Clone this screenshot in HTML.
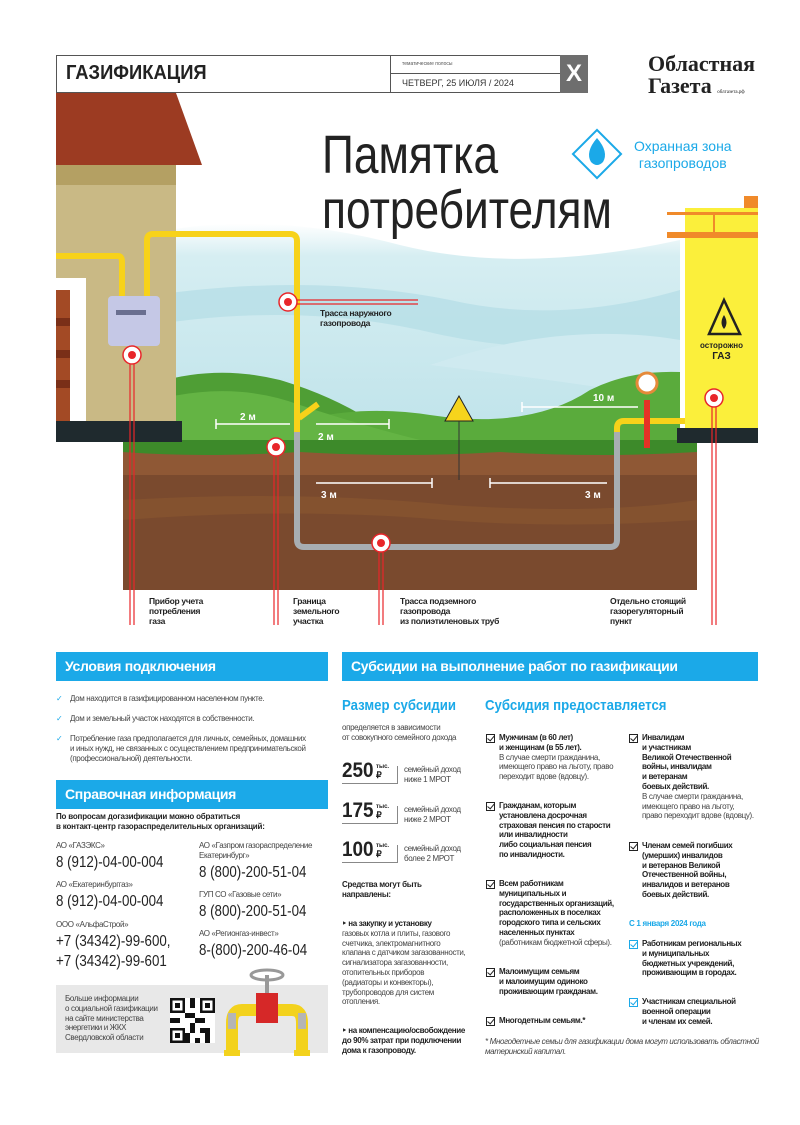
<!DOCTYPE html>
<html><head><meta charset="utf-8">
<style>
*{margin:0;padding:0;box-sizing:border-box}
body{width:800px;height:1125px;background:#fff;position:relative;overflow:hidden;font-family:"Liberation Sans",sans-serif;color:#222}
.a{position:absolute;white-space:nowrap}
.bar{position:absolute;background:#1ba9e8;color:#fff;font-weight:bold;font-size:14px;padding-left:9px;line-height:29px;height:29px;letter-spacing:-0.3px}
.s{font-size:8px;line-height:9.8px;color:#444;letter-spacing:-0.35px}
.b{font-weight:bold;color:#222}
.ph{font-size:15.5px;color:#222;transform:scaleX(.86);transform-origin:left top}
.lbl{font-size:8.5px;font-weight:bold;line-height:10px;color:#222;letter-spacing:-0.3px}
.cb{position:absolute;width:9px;height:9px;border:1.2px solid #222}
.cb:after{content:"";position:absolute;left:2px;top:-1px;width:3px;height:6px;border-right:1.5px solid #222;border-bottom:1.5px solid #222;transform:rotate(40deg)}
.cb.bl{border-color:#1ba9e8}.cb.bl:after{border-color:#1ba9e8}
.h2{font-size:15px;font-weight:bold;color:#1ba9e8;transform:scaleX(.88);transform-origin:left top}
</style></head><body>

<svg class="a" style="left:0;top:0" width="800" height="640" viewBox="0 0 800 640">
<defs>
<linearGradient id="sky" x1="0" y1="0" x2="0" y2="1"><stop offset="0" stop-color="#fff"/><stop offset="0.15" stop-color="#d6eef2"/><stop offset="1" stop-color="#bfe3ea"/></linearGradient>
</defs>
<path d="M123 240 Q250 205 400 245 Q520 275 680 240 L680 440 L123 440Z" fill="url(#sky)"/>
<path d="M123 300 Q300 270 450 300 Q560 325 680 290 L680 340 Q540 360 420 330 Q280 300 123 330Z" fill="#b3dde5" opacity=".7"/>
<path d="M430 365 Q560 320 680 340 L680 400 Q560 380 430 365Z" fill="#cfeaf0"/>
<path d="M123 420 L123 395 Q200 360 280 380 Q330 395 370 420Z" fill="#4f9e35"/>
<path d="M250 440 Q330 400 430 415 Q530 430 590 390 Q630 370 680 372 L680 440Z" fill="#5aab3c"/>
<path d="M123 440 L123 410 Q220 375 300 405 Q360 425 420 440Z" fill="#64b444"/>
<rect x="123" y="445" width="574" height="145" fill="#7a4a2e"/>
<rect x="123" y="445" width="574" height="30" fill="#8f5835"/>
<path d="M123 500 Q300 490 450 505 Q600 515 697 500 L697 520 Q550 530 420 518 Q280 508 123 520Z" fill="#84522f"/>
<path d="M123 452 L123 440 L697 440 L697 452 Q600 458 500 452 Q400 458 300 452 Q200 458 123 452Z" fill="#3d8a2a"/>
<polygon points="56,93 176,93 202,165 56,165" fill="#9c3b22"/>
<rect x="56" y="165" width="120" height="20" fill="#b4a063"/>
<rect x="56" y="185" width="120" height="236" fill="#c9b985"/>
<rect x="56" y="278" width="30" height="143" fill="#fff"/>
<rect x="56" y="290" width="14" height="131" fill="#a34a25"/>
<rect x="56" y="318" width="14" height="8" fill="#7a2f18"/><rect x="56" y="350" width="14" height="8" fill="#7a2f18"/><rect x="56" y="380" width="14" height="8" fill="#7a2f18"/>
<rect x="56" y="421" width="126" height="21" fill="#1f2a2e"/>
<g fill="none" stroke="#f7d21a" stroke-width="6" stroke-linejoin="round">
<path d="M56 256 L118 256 Q122 256 122 262 L122 296"/>
<path d="M147 296 L147 240 Q147 234 153 234 L290 234 Q297 234 297 241 L297 432"/>
<path d="M617 432 L617 428 Q617 421 624 421 L685 421"/>
<path d="M299 418 L318 404"/>
</g>
<rect x="644" y="400" width="6" height="48" fill="#e53226"/>
<circle cx="647" cy="383" r="10" fill="#fff" stroke="#e58a3a" stroke-width="3"/>
<rect x="108" y="296" width="52" height="50" rx="4" fill="#c5c8e6"/>
<rect x="116" y="310" width="30" height="5" fill="#6a6f90"/>
<path d="M297 432 L297 540 Q297 547 304 547 L610 547 Q617 547 617 540 L617 432" fill="none" stroke="#a8aeb2" stroke-width="6"/>
<rect x="685" y="208" width="73" height="222" fill="#fbef3b"/>
<rect x="744" y="196" width="14" height="12" fill="#f08a2a"/>
<rect x="667" y="212" width="91" height="3" fill="#f08a2a"/>
<rect x="667" y="232" width="91" height="6" fill="#f08a2a"/>
<rect x="713" y="215" width="2" height="17" fill="#f08a2a"/>
<rect x="677" y="428" width="81" height="15" fill="#1f2a2e"/>
<polygon points="724,300 709,334 740,334" fill="none" stroke="#222" stroke-width="2.5"/>
<path d="M724 315 q-5 8 0 14 q5 -6 0 -14" fill="#222"/>
<polygon points="459,396 445,421 473,421" fill="#f6d41c" stroke="#222" stroke-width="1"/>
<line x1="459" y1="421" x2="459" y2="480" stroke="#333" stroke-width="1"/>
<g stroke="#fff" stroke-width="1.5" fill="none">
<path d="M216 419 V429 M216 424 H290"/>
<path d="M316 424 H389 M389 419 V429"/>
<path d="M316 483 H432 M432 478 V488"/>
<path d="M490 478 V488 M490 483 H607"/>
<path d="M522 402 V412 M522 407 H638"/>
</g>
<g fill="#fff" font-family="Liberation Sans" font-weight="bold" font-size="10">
<text x="240" y="420">2 м</text>
<text x="318" y="440">2 м</text>
<text x="321" y="498">3 м</text>
<text x="585" y="498">3 м</text>
<text x="593" y="401">10 м</text>
</g>
<g stroke="#e8262a" stroke-width="1.2" fill="none">
<path d="M130 360 V625 M134 360 V625"/>
<path d="M274 452 V625 M278 452 V625"/>
<path d="M379 548 V625 M383 548 V625"/>
<path d="M712 403 V625 M716 403 V625"/>
<path d="M293 300 H418 M293 304 H418"/>
</g>
<g fill="#fff" stroke="#e8262a" stroke-width="1.5">
<circle cx="132" cy="355" r="9"/><circle cx="276" cy="447" r="9"/><circle cx="381" cy="543" r="9"/><circle cx="714" cy="398" r="9"/><circle cx="288" cy="302" r="9"/>
</g>
<g fill="#e8262a"><circle cx="132" cy="355" r="4"/><circle cx="276" cy="447" r="4"/><circle cx="381" cy="543" r="4"/><circle cx="714" cy="398" r="4"/><circle cx="288" cy="302" r="4"/></g>
<rect x="580" y="137" width="34" height="34" fill="#fff" stroke="#1ba9e8" stroke-width="2" transform="rotate(45 597 154)"/>
<path d="M597 138 q-12 14 -6 24 q6 6 12 0 q6 -10 -6 -24z" fill="#1ba9e8"/>
</svg>

<div class="a" style="left:56px;top:55px;width:532px;height:38px;border:1px solid #555"></div>
<div class="a" style="left:66px;top:62px;font-size:20px;font-weight:bold;color:#222;transform:scaleX(.92);transform-origin:left top">ГАЗИФИКАЦИЯ</div>
<div class="a" style="left:390px;top:55px;width:170px;height:38px;border-left:1px solid #555"></div>
<div class="a" style="left:390px;top:73px;width:170px;border-top:1px solid #555"></div>
<div class="a" style="left:402px;top:61px;font-size:5px;color:#555">тематические полосы</div>
<div class="a" style="left:402px;top:78px;font-size:9px;color:#333">ЧЕТВЕРГ, 25 ИЮЛЯ / 2024</div>
<div class="a" style="left:560px;top:55px;width:28px;height:38px;background:#6e6e6e;color:#fff;font-weight:bold;font-size:24px;text-align:center;line-height:38px">X</div>
<div class="a" style="left:648px;top:53px;font-family:'Liberation Serif',serif;font-weight:bold;font-size:22px;line-height:22px;color:#222">Областная<br>Газета <span style="font-size:5px;font-weight:normal">облгазета.рф</span></div>

<div class="a" style="left:322px;top:128px;font-size:54px;line-height:55px;color:#222;transform:scaleX(.82);transform-origin:left top">Памятка<br>потребителям</div>
<div class="a" style="left:634px;top:138px;font-size:14px;line-height:17px;color:#1ba9e8;text-align:center">Охранная зона<br>газопроводов</div>

<div class="a lbl" style="left:320px;top:308px">Трасса наружного<br>газопровода</div>
<div class="a" style="left:700px;top:340px;font-size:8px;font-weight:bold;text-align:center;line-height:11px">осторожно<br><span style="font-size:10px">ГАЗ</span></div>
<div class="a lbl" style="left:149px;top:596px">Прибор учета<br>потребления<br>газа</div>
<div class="a lbl" style="left:293px;top:596px">Граница<br>земельного<br>участка</div>
<div class="a lbl" style="left:400px;top:596px">Трасса подземного<br>газопровода<br>из полиэтиленовых труб</div>
<div class="a lbl" style="left:610px;top:596px">Отдельно стоящий<br>газорегуляторный<br>пункт</div>

<div class="bar" style="left:56px;top:652px;width:272px">Условия подключения</div>
<div class="a s" style="left:56px;top:694px;line-height:10px">
<div style="position:relative;padding-left:14px"><span style="position:absolute;left:0;color:#1ba9e8">✓</span>Дом находится в газифицированном населенном пункте.</div>
<div style="position:relative;padding-left:14px;margin-top:10px"><span style="position:absolute;left:0;color:#1ba9e8">✓</span>Дом и земельный участок находятся в собственности.</div>
<div style="position:relative;padding-left:14px;margin-top:10px"><span style="position:absolute;left:0;color:#1ba9e8">✓</span>Потребление газа предполагается для личных, семейных, домашних<br>и иных нужд, не связанных с осуществлением предпринимательской<br>(профессиональной) деятельности.</div>
</div>
<div class="bar" style="left:56px;top:780px;width:272px">Справочная информация</div>
<div class="a b" style="left:56px;top:812px;font-size:8px;line-height:10px;letter-spacing:-0.2px">По вопросам догазификации можно обратиться<br>в контакт-центр газораспределительных организаций:</div>
<div class="a s" style="left:56px;top:841px">АО «ГАЗЭКС»</div>
<div class="a ph" style="left:56px;top:854px">8 (912)-04-00-004</div>
<div class="a s" style="left:56px;top:880px">АО «Екатеринбурггаз»</div>
<div class="a ph" style="left:56px;top:893px">8 (912)-04-00-004</div>
<div class="a s" style="left:56px;top:920px">ООО «АльфаСтрой»</div>
<div class="a ph" style="left:56px;top:932px;line-height:20px">+7 (34342)-99-600,<br>+7 (34342)-99-601</div>
<div class="a s" style="left:199px;top:841px">АО «Газпром газораспределение<br>Екатеринбург»</div>
<div class="a ph" style="left:199px;top:864px">8 (800)-200-51-04</div>
<div class="a s" style="left:199px;top:890px">ГУП СО «Газовые сети»</div>
<div class="a ph" style="left:199px;top:903px">8 (800)-200-51-04</div>
<div class="a s" style="left:199px;top:929px">АО «Регионгаз-инвест»</div>
<div class="a ph" style="left:199px;top:942px">8-(800)-200-46-04</div>
<div class="a" style="left:56px;top:985px;width:272px;height:68px;background:#e8e8e8"></div>
<div class="a s" style="left:65px;top:994px">Больше информации<br>о социальной газификации<br>на сайте министерства<br>энергетики и ЖКХ<br>Свердловской области</div>
<svg class="a" style="left:170px;top:998px" width="45" height="45" viewBox="0 0 9 9">
<rect width="9" height="9" fill="#fff"/>
<g fill="#111"><path d="M0 0h3v3H0zM6 0h3v3H6zM0 6h3v3H0z"/></g>
<g fill="#fff"><path d="M.5 .5h2v2h-2zM6.5 .5h2v2h-2zM.5 6.5h2v2h-2z"/></g>
<g fill="#111"><path d="M1 1h1v1H1zM7 1h1v1H7zM1 7h1v1H1zM4 0h1v2H4zM3 3h2v1H3zM5 4h2v1H5zM4 5h1v2H4zM6 6h2v1H6zM7 7h1v2H7zM5 8h1v1H5zM0 4h2v1H0zM3 7h1v2H3z"/></g>
</svg>
<svg class="a" style="left:222px;top:965px" width="90" height="95" viewBox="0 0 90 95">
<ellipse cx="45" cy="10" rx="16" ry="5" fill="none" stroke="#999" stroke-width="3"/>
<rect x="43" y="10" width="4" height="18" fill="#999"/>
<rect x="34" y="28" width="22" height="30" fill="#d62828"/>
<path d="M34 45 H20 Q10 45 10 58 V85" fill="none" stroke="#f3d21d" stroke-width="12"/>
<path d="M56 45 H70 Q80 45 80 58 V85" fill="none" stroke="#f3d21d" stroke-width="12"/>
<rect x="6" y="48" width="8" height="16" fill="#b5b5b5"/><rect x="76" y="48" width="8" height="16" fill="#b5b5b5"/>
<rect x="2" y="85" width="16" height="6" fill="#f3d21d"/><rect x="72" y="85" width="16" height="6" fill="#f3d21d"/>
</svg>

<div class="bar" style="left:342px;top:652px;width:416px">Субсидии на выполнение работ по газификации</div>
<div class="a h2" style="left:342px;top:697px">Размер субсидии</div>
<div class="a h2" style="left:485px;top:697px">Субсидия предоставляется</div>
<div class="a s" style="left:342px;top:723px">определяется в зависимости<br>от совокупного семейного дохода</div>

<div class="a" style="left:342px;top:760px;font-size:21px;font-weight:bold;line-height:22px;transform:scaleX(.9);transform-origin:left">250</div>
<div class="a" style="left:376px;top:763px;font-size:6px;font-weight:bold;line-height:8px">тыс.<br><span style="font-size:9px">₽</span></div>
<div class="a" style="left:342px;top:783px;width:56px;border-bottom:1px solid #888"></div>
<div class="a" style="left:397px;top:766px;height:17px;border-left:1px solid #888"></div>
<div class="a s" style="left:404px;top:765px">семейный доход<br>ниже 1 МРОТ</div>

<div class="a" style="left:342px;top:800px;font-size:21px;font-weight:bold;line-height:22px;transform:scaleX(.9);transform-origin:left">175</div>
<div class="a" style="left:376px;top:803px;font-size:6px;font-weight:bold;line-height:8px">тыс.<br><span style="font-size:9px">₽</span></div>
<div class="a" style="left:342px;top:823px;width:56px;border-bottom:1px solid #888"></div>
<div class="a" style="left:397px;top:806px;height:17px;border-left:1px solid #888"></div>
<div class="a s" style="left:404px;top:805px">семейный доход<br>ниже 2 МРОТ</div>

<div class="a" style="left:342px;top:839px;font-size:21px;font-weight:bold;line-height:22px;transform:scaleX(.9);transform-origin:left">100</div>
<div class="a" style="left:376px;top:842px;font-size:6px;font-weight:bold;line-height:8px">тыс.<br><span style="font-size:9px">₽</span></div>
<div class="a" style="left:342px;top:862px;width:56px;border-bottom:1px solid #888"></div>
<div class="a" style="left:397px;top:845px;height:17px;border-left:1px solid #888"></div>
<div class="a s" style="left:404px;top:844px">семейный доход<br>более 2 МРОТ</div>

<div class="a b" style="left:342px;top:880px;font-size:8px;line-height:10px;letter-spacing:-0.3px">Средства могут быть<br>направлены:</div>
<div class="a s" style="left:342px;top:919px"><b style="color:#222">‣ на закупку и установку</b><br>газовых котла и плиты, газового<br>счетчика, электромагнитного<br>клапана с датчиком загазованности,<br>сигнализатора загазованности,<br>отопительных приборов<br>(радиаторы и конвекторы),<br>трубопроводов для систем<br>отопления.</div>
<div class="a b" style="left:342px;top:1026px;font-size:8px;line-height:10px;letter-spacing:-0.35px">‣ на компенсацию/освобождение<br>до 90% затрат при подключении<br>дома к газопроводу.</div>

<div class="cb" style="left:486px;top:734px"></div>
<div class="a s" style="left:499px;top:733px"><b style="color:#222">Мужчинам (в 60 лет)<br>и женщинам (в 55 лет).</b><br>В случае смерти гражданина,<br>имеющего право на льготу, право<br>переходит вдове (вдовцу).</div>
<div class="cb" style="left:486px;top:802px"></div>
<div class="a s b" style="left:499px;top:801px">Гражданам, которым<br>установлена досрочная<br>страховая пенсия по старости<br>или инвалидности<br>либо социальная пенсия<br>по инвалидности.</div>
<div class="cb" style="left:486px;top:880px"></div>
<div class="a s" style="left:499px;top:879px"><b style="color:#222">Всем работникам<br>муниципальных и<br>государственных организаций,<br>расположенных в поселках<br>городского типа и сельских<br>населенных пунктах</b><br>(работникам бюджетной сферы).</div>
<div class="cb" style="left:486px;top:968px"></div>
<div class="a s b" style="left:499px;top:967px">Малоимущим семьям<br>и малоимущим одиноко<br>проживающим гражданам.</div>
<div class="cb" style="left:486px;top:1017px"></div>
<div class="a s b" style="left:499px;top:1016px">Многодетным семьям.*</div>

<div class="cb" style="left:629px;top:734px"></div>
<div class="a s" style="left:642px;top:733px"><b style="color:#222">Инвалидам<br>и участникам<br>Великой Отечественной<br>войны, инвалидам<br>и ветеранам<br>боевых действий.</b><br>В случае смерти гражданина,<br>имеющего право на льготу,<br>право переходит вдове (вдовцу).</div>
<div class="cb" style="left:629px;top:842px"></div>
<div class="a s b" style="left:642px;top:841px">Членам семей погибших<br>(умерших) инвалидов<br>и ветеранов Великой<br>Отечественной войны,<br>инвалидов и ветеранов<br>боевых действий.</div>
<div class="a" style="left:629px;top:919px;font-size:8px;font-weight:bold;color:#1ba9e8;letter-spacing:-0.3px">С 1 января 2024 года</div>
<div class="cb bl" style="left:629px;top:940px"></div>
<div class="a s b" style="left:642px;top:939px">Работникам региональных<br>и муниципальных<br>бюджетных учреждений,<br>проживающим в городах.</div>
<div class="cb bl" style="left:629px;top:998px"></div>
<div class="a s b" style="left:642px;top:997px">Участникам специальной<br>военной операции<br>и членам их семей.</div>
<div class="a s" style="left:485px;top:1037px;font-style:italic">* Многодетные семьи для газификации дома могут использовать областной<br>материнский капитал.</div>
</body></html>
